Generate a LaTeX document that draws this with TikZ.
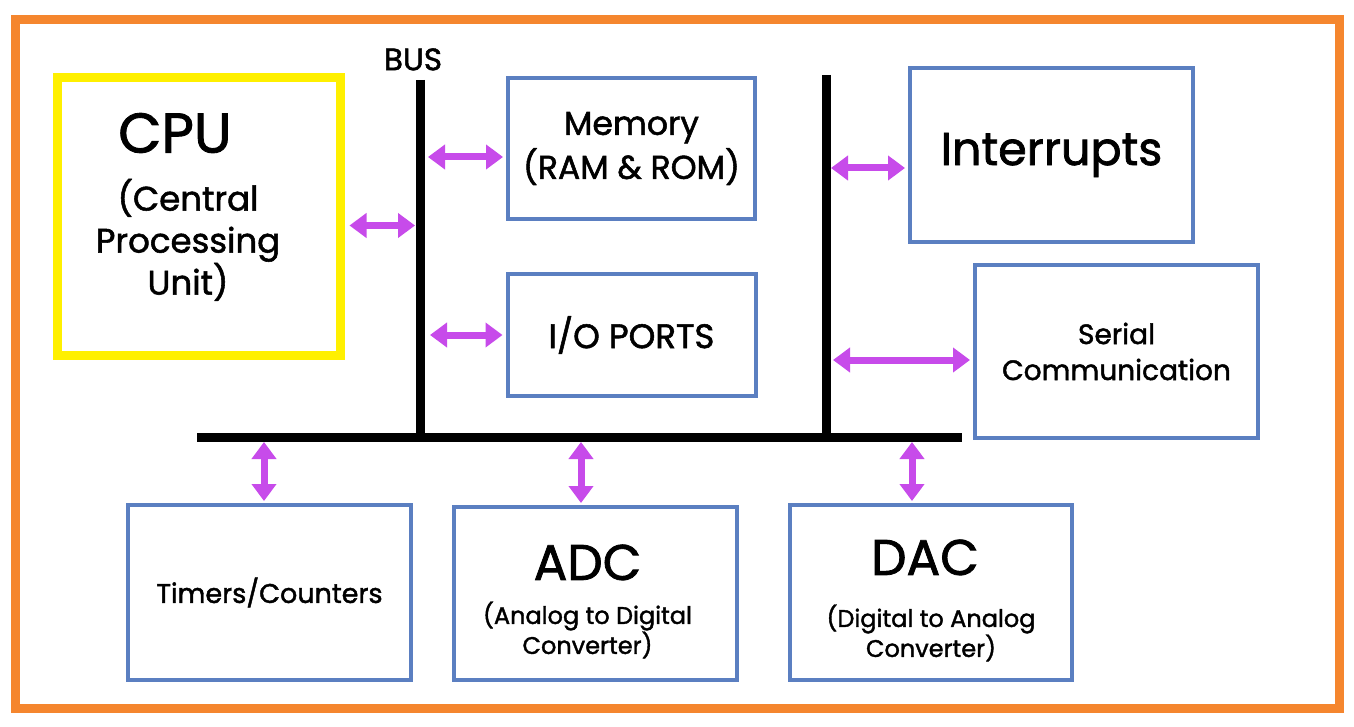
\documentclass[tikz,border=0pt]{standalone}
\usepackage{fontspec}
\setmainfont{Poppins}[FakeBold=1.6]
\usetikzlibrary{arrows.meta, positioning}

\definecolor{frameorange}{HTML}{F5862E}
\definecolor{cpuyellow}{HTML}{FFF000}
\definecolor{boxblue}{HTML}{5B7FC1}
\definecolor{linkpink}{HTML}{C74BEA}

\tikzset{
  block/.style={draw=boxblue, line width=4pt, align=center, inner sep=0pt},
  link/.style={linkpink, line width=7pt,
    {Triangle[width=24pt,length=17pt]}-{Triangle[width=24pt,length=17pt]}},
  busline/.style={black, line width=9pt},
}

\begin{document}
\begin{tikzpicture}[x=1pt, y=-1pt]
    \useasboundingbox (0,0) rectangle (1354,727);
    \draw[frameorange, line width=9pt] (15,20) rectangle (1339,708);

    \node[draw=cpuyellow, line width=9pt, align=center, inner sep=0pt,
      minimum width=283pt, minimum height=278pt] (cpu) at (198.5,216.5) {};
    \node[align=center, font=\fontsize{34}{42}\selectfont] (cpu text) at (188,207)
      {\fontsize{56}{56}\selectfont\hspace*{-26pt}CPU\\[16pt]\fontsize{34}{43}\selectfont (Central\\Processing\\Unit)};

    \node[block, minimum width=247pt, minimum height=141pt, font=\fontsize{33}{44}\selectfont] (mem) at (631.5,148.5) {Memory\\(RAM \& ROM)};
    \node[block, minimum width=248pt, minimum height=122pt, font=\fontsize{34}{36}\selectfont] (io) [below=51pt of mem.south, anchor=north] {I/O PORTS};
    \node[block, minimum width=283pt, minimum height=174pt, font=\fontsize{46}{50}\selectfont] (int) at (1051.5,155) {Interrupts};
    \node[block, minimum width=283pt, minimum height=173pt, font=\fontsize{28}{36}\selectfont] (serial) at (1116.5,351.5) {Serial\\Communication};
    \node[block, minimum width=283pt, minimum height=175pt, font=\fontsize{27}{36}\selectfont] (timers) at (269.5,592.5) {Timers/Counters};
    \node[block, minimum width=283pt, minimum height=173pt] (adc) at (595.5,593.5) {};
    \node[block, minimum width=282pt, minimum height=175pt] (dac) at (931,592.5) {};
    \node[align=center, font=\fontsize{24}{30}\selectfont] (adc text) at ([xshift=-8pt,yshift=-8pt]adc.center)
      {\fontsize{50}{50}\selectfont ADC\\[14pt]\fontsize{24}{30}\selectfont (Analog to Digital\\Converter)};
    \node[align=center, font=\fontsize{24}{30}\selectfont] (dac text) at ([yshift=-8pt]dac.center)
      {\fontsize{50}{50}\selectfont\hspace*{-12pt}DAC\\[22pt]\fontsize{24}{30}\selectfont (Digital to Analog\\Converter)};

    % bus lines
    \coordinate (busA top) at (420,80);
    \coordinate (busB top) at (826,75);
    \coordinate (bus left) at (197,437);
    \coordinate (bus right) at (962,437);
    \node[font=\fontsize{31}{31}\selectfont, anchor=south] (bus label) at (413,74) {BUS};
    \draw[busline] (busA top) -- (busA top |- bus left);
    \draw[busline] (busB top) -- (busB top |- bus left);
    \draw[busline] (bus left) -- (bus right);

    \draw[link, shorten <=5pt, shorten >=5pt] ([yshift=-9pt]cpu.east) -- ([yshift=-9pt]cpu.east -| busA top);
    \draw[link, shorten <=8pt, shorten >=3pt] ([yshift=-8.5pt]mem.west -| busA top) -- ([yshift=-8.5pt]mem.west);
    \draw[link, shorten <=10pt, shorten >=3pt] (io.west -| busA top) -- (io.west);
    \draw[link, shorten <=5pt, shorten >=3pt] ([yshift=-13pt]int.west -| busB top) -- ([yshift=-13pt]int.west);
    \draw[link, shorten <=7pt, shorten >=3pt] ([yshift=-8.5pt]serial.west -| busB top) -- ([yshift=-8.5pt]serial.west);
    \draw[link, shorten <=5pt, shorten >=2pt] ([xshift=-5.5pt]timers.north |- bus left) -- ([xshift=-5.5pt]timers.north);
    \draw[link, shorten <=5pt, shorten >=2pt] ([xshift=-14.5pt]adc.north |- bus left) -- ([xshift=-14.5pt]adc.north);
    \draw[link, shorten <=5pt, shorten >=2pt] ([xshift=-19pt]dac.north |- bus left) -- ([xshift=-19pt]dac.north);
\end{tikzpicture}
\end{document}
